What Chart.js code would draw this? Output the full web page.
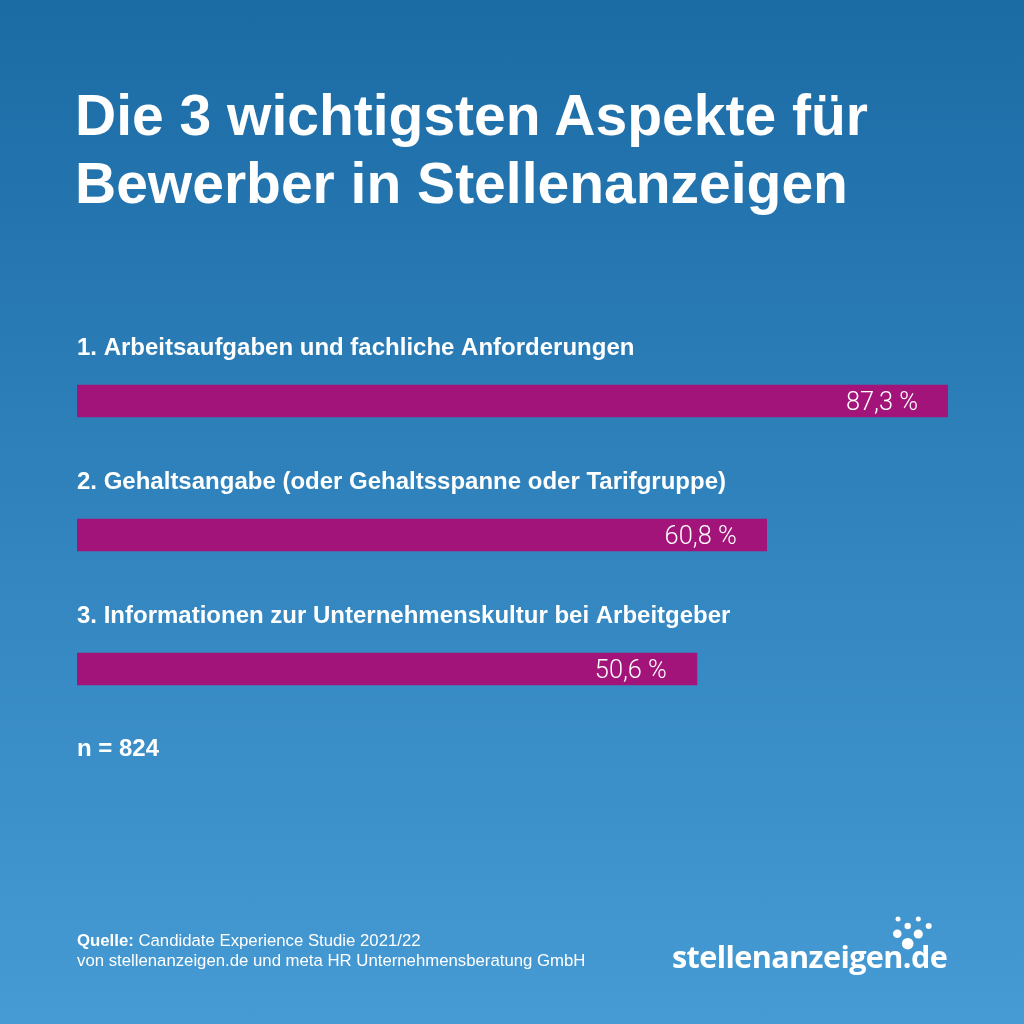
<!DOCTYPE html>
<html lang="de"><head><meta charset="utf-8">
<script src="https://cdn.jsdelivr.net/npm/chart.js@4/dist/chart.umd.min.js"></script>
<style>
html,body{margin:0;padding:0;width:1024px;height:1024px;overflow:hidden}
#bg{position:absolute;left:0;top:0;width:1024px;height:1024px;background:linear-gradient(180deg,#1b6ba5 0%,#469bd4 100%)}
#c{position:absolute;left:0;top:0}
.t{position:absolute;color:#fff;font-family:"Liberation Sans",Arial,sans-serif;white-space:nowrap}
#title{left:75px;top:81px;font-size:57px;font-weight:700;line-height:68px}
#n{left:77px;top:734px;font-size:24px;font-weight:700}
#src{left:77px;top:930.5px;font-size:16.75px;line-height:20.5px}
#logo{left:672px;top:935px;font-family:"Open Sans",sans-serif;font-size:30.6px;font-weight:700;letter-spacing:-.6px}
</style></head><body>
<div id="bg"></div>
<canvas id="c" width="1024" height="1024"></canvas>
<div class="t" id="title">Die 3 wichtigsten Aspekte für<br>Bewerber in Stellenanzeigen</div>
<div class="t" id="n">n = 824</div>
<div class="t" id="src"><b>Quelle:</b> Candidate Experience Studie 2021/22<br>von stellenanzeigen.de und meta HR Unternehmensberatung GmbH</div>
<div class="t" id="logo">stellenanzeigen.de</div>
<svg style="position:absolute;left:0;top:0" width="1024" height="1024" fill="#fff">
<circle cx="898" cy="919" r="2.5"/><circle cx="918.3" cy="919" r="2.5"/>
<circle cx="907.7" cy="926" r="3.2"/><circle cx="928.7" cy="926" r="3"/>
<circle cx="897.3" cy="933.7" r="4.3"/><circle cx="918.3" cy="934" r="4.6"/>
<circle cx="907.7" cy="943.7" r="5.8"/>
</svg>
<script>
const categories = ["1. Arbeitsaufgaben und fachliche Anforderungen",
  "2. Gehaltsangabe (oder Gehaltsspanne oder Tarifgruppe)",
  "3. Informationen zur Unternehmenskultur bei Arbeitgeber"];
const values = [87.3, 60.8, 50.6];
const valueLabels = ["87,3 %", "60,8 %", "50,6 %"];
const axisStart = -40;   // the reference's bars share a baseline below zero
const axisEnd = 87.3;

const barText = {
  id: "barText",
  afterDatasetsDraw(chart) {
    const { ctx } = chart;
    const bars = chart.getDatasetMeta(0).data;
    ctx.save();
    ctx.fillStyle = "#fff";
    ctx.textBaseline = "alphabetic";
    bars.forEach((bar, i) => {
      ctx.textAlign = "left";
      ctx.font = '700 24px "Liberation Sans", Arial, sans-serif';
      ctx.fillText(categories[i], 77, bar.y - 46.5);
      ctx.textAlign = "right";
      ctx.font = '300 25.4px "Roboto", "Liberation Sans", sans-serif';
      ctx.fillText(valueLabels[i], bar.x - 30, bar.y + 9);
    });
    ctx.restore();
  }
};

new Chart(document.getElementById("c"), {
  type: "bar",
  plugins: [barText],
  data: {
    labels: categories,
    datasets: [{
      data: values,
      base: axisStart,
      backgroundColor: "#a3147a",
      borderWidth: 0,
      barThickness: 32,
    }]
  },
  options: {
    indexAxis: "y",
    responsive: false,
    animation: false,
    devicePixelRatio: 1,
    layout: { padding: { left: 77, right: 76, top: 334, bottom: 288 } },
    plugins: { legend: { display: false }, tooltip: { enabled: false }, title: { display: false } },
    scales: {
      x: { type: "linear", min: axisStart, max: axisEnd, display: false },
      y: { type: "category", display: false }
    }
  }
});
</script>
</body></html>
